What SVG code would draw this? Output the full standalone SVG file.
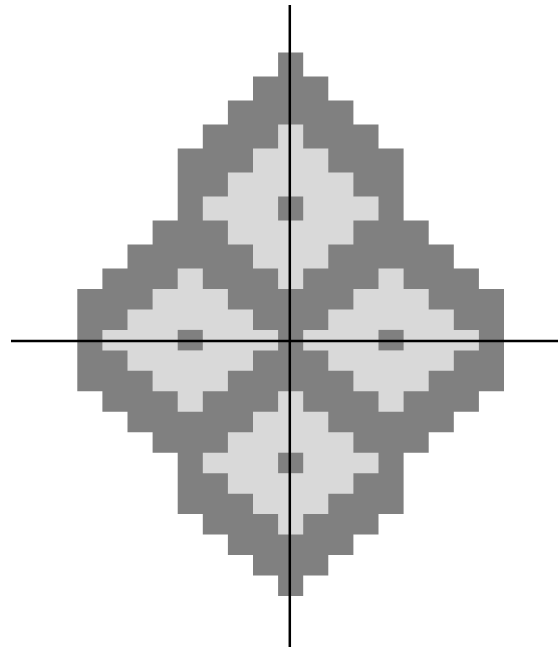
<svg xmlns="http://www.w3.org/2000/svg" width="558" height="650" viewBox="0 0 558 650">
<style>
.dark{fill:#808080}
.light{fill:#d9d9d9}
.axis{stroke:#000;stroke-width:2.5;fill:none}
</style>
<rect x="0" y="0" width="558" height="650" fill="#fff"/>
<g id="outer">
<polygon class="dark" points="278.1,52.5 303.2,52.5 303.2,76.5 328.3,76.5 328.3,100.5 353.4,100.5 353.4,124.5 378.5,124.5 378.5,148.5 403.6,148.5 403.6,220.5 428.7,220.5 428.7,244.5 453.8,244.5 453.8,268.5 478.9,268.5 478.9,289 504,289 504,391.3 478.9,391.3 478.9,411.8 453.8,411.8 453.8,432.3 428.7,432.3 428.7,452.7 403.6,452.7 403.6,514.1 378.5,514.1 378.5,534.6 353.4,534.6 353.4,555.1 328.3,555.1 328.3,575.5 303.2,575.5 303.2,596 278.1,596 278.1,575.5 253,575.5 253,555.1 227.9,555.1 227.9,534.6 202.8,534.6 202.8,514.1 177.7,514.1 177.7,452.7 152.6,452.7 152.6,432.3 127.5,432.3 127.5,411.8 102.4,411.8 102.4,391.3 77.3,391.3 77.3,289 102.4,289 102.4,268.5 127.5,268.5 127.5,244.5 152.6,244.5 152.6,220.5 177.7,220.5 177.7,148.5 202.8,148.5 202.8,124.5 227.9,124.5 227.9,100.5 253,100.5 253,76.5 278.1,76.5"/>
</g>
<g id="top-diamond">
<polygon class="light" points="278.1,124.5 303.2,124.5 303.2,148.5 328.3,148.5 328.3,172.5 353.4,172.5 353.4,196.5 378.5,196.5 378.5,220.5 353.4,220.5 353.4,244.5 328.3,244.5 328.3,268.5 303.2,268.5 303.2,289 278.1,289 278.1,268.5 253,268.5 253,244.5 227.9,244.5 227.9,220.5 202.8,220.5 202.8,196.5 227.9,196.5 227.9,172.5 253,172.5 253,148.5 278.1,148.5"/>
<rect class="dark" x="278.1" y="196.5" width="25.1" height="24"/>
</g>
<g id="left-diamond">
<polygon class="light" points="177.7,268.5 202.8,268.5 202.8,289 227.9,289 227.9,309.4 253,309.4 253,329.9 278.1,329.9 278.1,350.4 253,350.4 253,370.8 227.9,370.8 227.9,391.3 202.8,391.3 202.8,411.8 177.7,411.8 177.7,391.3 152.6,391.3 152.6,370.8 127.5,370.8 127.5,350.4 102.4,350.4 102.4,329.9 127.5,329.9 127.5,309.4 152.6,309.4 152.6,289 177.7,289"/>
<rect class="dark" x="177.7" y="329.9" width="25.1" height="20.5"/>
</g>
<g id="right-diamond">
<polygon class="light" points="378.5,268.5 403.6,268.5 403.6,289 428.7,289 428.7,309.4 453.8,309.4 453.8,329.9 478.9,329.9 478.9,350.4 453.8,350.4 453.8,370.8 428.7,370.8 428.7,391.3 403.6,391.3 403.6,411.8 378.5,411.8 378.5,391.3 353.4,391.3 353.4,370.8 328.3,370.8 328.3,350.4 303.2,350.4 303.2,329.9 328.3,329.9 328.3,309.4 353.4,309.4 353.4,289 378.5,289"/>
<rect class="dark" x="378.5" y="329.9" width="25.1" height="20.5"/>
</g>
<g id="bottom-diamond">
<polygon class="light" points="278.1,391.3 303.2,391.3 303.2,411.8 328.3,411.8 328.3,432.3 353.4,432.3 353.4,452.7 378.5,452.7 378.5,473.2 353.4,473.2 353.4,493.7 328.3,493.7 328.3,514.1 303.2,514.1 303.2,534.6 278.1,534.6 278.1,514.1 253,514.1 253,493.7 227.9,493.7 227.9,473.2 202.8,473.2 202.8,452.7 227.9,452.7 227.9,432.3 253,432.3 253,411.8 278.1,411.8"/>
<rect class="dark" x="278.1" y="452.7" width="25.1" height="20.5"/>
</g>
<g id="axes">
<line class="axis" x1="289.8" y1="5" x2="289.8" y2="647"/>
<line class="axis" x1="11" y1="341" x2="558" y2="341"/>
</g>
</svg>
